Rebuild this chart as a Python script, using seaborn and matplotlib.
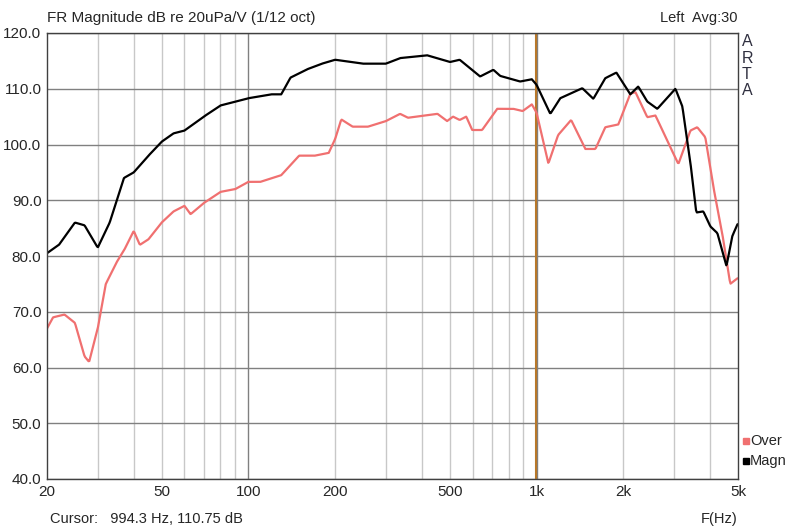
import numpy as np
import pandas as pd
import matplotlib
matplotlib.use('Agg')
import matplotlib.pyplot as plt
from matplotlib.lines import Line2D
import seaborn as sns

# Magn curve (black)
magn_f = [20, 22, 25, 27, 30, 33, 37, 40, 45, 50, 55, 60, 70, 80, 100, 120, 130, 140, 160, 180,
          200, 250, 300, 336, 417, 501, 541, 637, 708, 748, 877, 963, 1000,
          1116, 1208, 1441, 1574, 1732, 1892, 2115, 2253, 2422, 2624, 3033, 3206, 3419,
          3583, 3790, 4010, 4240, 4560, 4780, 4980]
magn_db = [80.5, 82, 86, 85.5, 81.5, 86, 94, 95, 98, 100.5, 102, 102.5, 105, 107, 108.3, 109, 109, 112, 113.5, 114.5,
           115.2, 114.5, 114.5, 115.5, 116, 114.8, 115.2, 112.2, 113.4, 112.3, 111.3, 111.7, 110.7,
           105.5, 108.3, 110.1, 108.2, 111.9, 112.9, 109, 110.4, 107.7, 106.4, 110, 106.8, 96.7,
           87.8, 88, 85.3, 84.1, 78.2, 83.6, 85.7]

# Over curve (red)
over_f = [20, 21, 23, 25, 27, 28, 30, 32, 35, 37, 40, 42, 45, 50, 55, 60, 63, 70, 80, 90, 100, 110,
          130, 150, 170, 190, 200, 210, 230, 260, 300, 336, 358, 453, 489, 513, 541, 570, 598, 647,
          730, 830, 895, 963, 1000, 1099, 1188, 1318, 1476, 1600, 1732, 1922, 2115, 2203, 2422, 2586,
          2840, 3105, 3419, 3610, 3850, 4110, 4410, 4700, 4980]
over_db = [67, 69, 69.5, 68, 62, 61, 67, 75, 79, 81, 84.5, 82, 83, 86, 88, 89, 87.5, 89.5, 91.5, 92, 93.3, 93.3,
           94.5, 98, 98, 98.5, 101, 104.5, 103.2, 103.2, 104.2, 105.5, 104.8, 105.5, 104.2, 105, 104.4, 105, 102.6, 102.6,
           106.4, 106.4, 106, 107.2, 105.7, 96.6, 101.7, 104.4, 99.2, 99.2, 103.1, 103.6, 109.1, 109.4, 104.9, 105.2,
           100.7, 96.5, 102.5, 103.1, 101.3, 92.3, 84, 75, 76]

x_ticks = [20, 50, 100, 200, 500, 1000, 2000, 5000]
x_labels = ['20', '50', '100', '200', '500', '1k', '2k', '5k']
y_ticks = [40, 50, 60, 70, 80, 90, 100, 110, 120]
cursor_hz = 994.3
red = '#f07070'


def smooth(f, db):
    # resample on a log grid so the curve looks continuous
    lf = np.log10(f)
    grid = np.linspace(lf[0], lf[-1], 800)
    return 10 ** grid, np.interp(grid, lf, db)


fm, dm = smooth(magn_f, magn_db)
fo, do = smooth(over_f, over_db)
df = pd.concat([
    pd.DataFrame({'f': fo, 'db': do, 'curve': 'Over'}),
    pd.DataFrame({'f': fm, 'db': dm, 'curve': 'Magn'}),
])

sns.set_style('white')
plt.rcParams['font.family'] = ['Liberation Sans', 'DejaVu Sans']

fig = plt.figure(figsize=(7.94, 5.31), dpi=100)
ax = fig.add_axes([47 / 794, 52 / 531, 691 / 794, 446 / 531])
ax.set_xscale('log')

# grid
minor = [f * d for d in [10, 100, 1000] for f in range(2, 10)]
for m in minor:
    if 20 < m < 5000:
        ax.axvline(m, color='#c8c8c8', lw=1, zorder=0)
for m in [100, 1000]:
    ax.axvline(m, color='#808080', lw=1, zorder=0)
for y in y_ticks:
    ax.axhline(y, color='#808080', lw=1, zorder=0)

ax.axvline(cursor_hz, color='#b8782a', lw=1.5, zorder=1)

sns.lineplot(data=df, x='f', y='db', hue='curve', palette={'Over': red, 'Magn': 'black'},
             sort=False, estimator=None, lw=1.6, legend=False, ax=ax, zorder=2)

ax.set_xlim(20, 5000)
ax.set_ylim(40, 120)
ax.set_xticks(x_ticks)
ax.set_xticklabels(x_labels)
ax.xaxis.set_minor_locator(matplotlib.ticker.NullLocator())
ax.set_yticks(y_ticks)
ax.set_yticklabels([f'{v:.1f}' for v in y_ticks])
ax.tick_params(length=0, labelsize=11, pad=4)
ax.set_xlabel('')
ax.set_ylabel('')
for s in ax.spines.values():
    s.set_color('#404040')
    s.set_linewidth(1)

fig.text(47 / 794, 1 - 18 / 531, 'FR Magnitude dB re 20uPa/V (1/12 oct)', fontsize=11, va='center')
fig.text(738 / 794, 1 - 18 / 531, 'Left  Avg:30', fontsize=10.5, va='center', ha='right')
fig.text(50 / 794, 1 - 519 / 531, 'Cursor:   994.3 Hz, 110.75 dB', fontsize=10.5, va='center')
fig.text(738 / 794, 1 - 519 / 531, 'F(Hz)', fontsize=10.5, va='center', ha='right')
for i, ch in enumerate('ARTA'):
    fig.text(742 / 794, 1 - (42 + i * 16.3) / 531, ch, fontsize=11.5, va='center', color='#303040')
for yy, col, name in [(441, red, 'Over'), (461, 'black', 'Magn')]:
    fig.add_artist(Line2D([745.5 / 794], [1 - yy / 531], marker='s', markersize=4, color=col, lw=0))
    fig.text(750 / 794, 1 - yy / 531, name, fontsize=10.5, va='center')

fig.savefig('out.png', dpi=100)
